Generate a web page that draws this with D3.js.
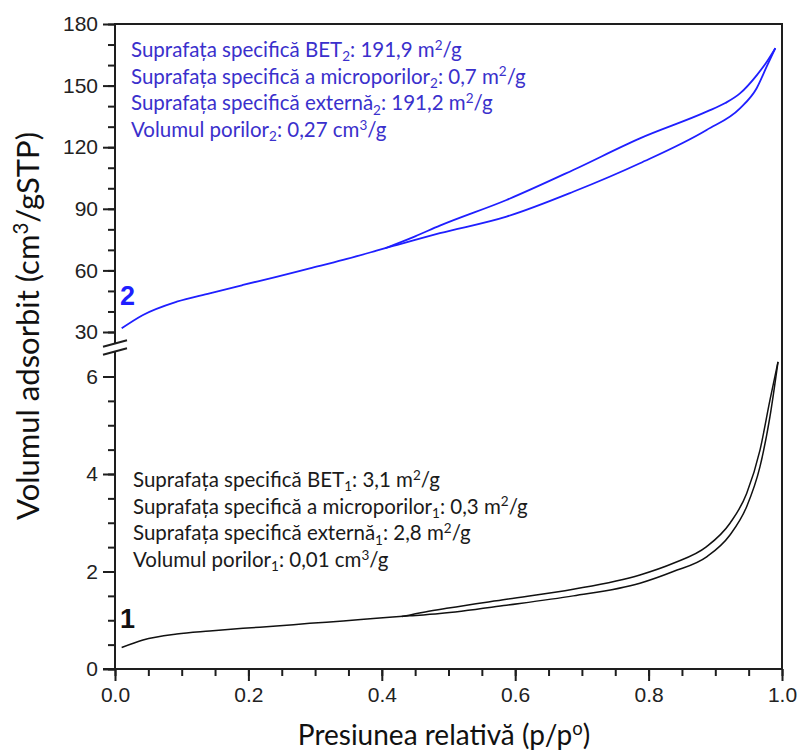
<!DOCTYPE html>
<html>
<head>
<meta charset="utf-8">
<script src="https://cdn.jsdelivr.net/npm/d3@7/dist/d3.min.js"></script>
<style>
  html, body { margin: 0; padding: 0; background: #fff; }
  svg { display: block; }
</style>
</head>
<body>
<svg id="chart" width="800" height="753"></svg>
<script>
// Nitrogen sorption isotherms, two samples on a broken y axis.
// Each branch is listed by increasing relative pressure: [p/p0, volume]
// Sample 2 (upper panel)
const sample2Adsorption = [
  [0.010, 31.8], [0.042, 38.3], [0.0925, 44.75], [0.142, 48.85], [0.192, 52.9],
  [0.242, 56.9], [0.292, 61.0], [0.342, 65.1], [0.392, 69.6], [0.417, 71.9],
  [0.450, 74.9], [0.487, 78.1], [0.587, 86.2], [0.687, 98.3], [0.787, 112.2],
  [0.887, 128.4], [0.937, 138.9], [0.962, 148.7], [0.977, 159.2], [0.990, 168.2]
];
const sample2Desorption = [
  [0.405, 70.8], [0.450, 76.6], [0.487, 81.8], [0.587, 94.3], [0.687, 108.9],
  [0.787, 124.3], [0.887, 137.3], [0.915, 141.5], [0.937, 146.2], [0.962, 155.0],
  [0.977, 161.5], [0.990, 168.2]
];
// Sample 1 (lower panel)
const sample1Adsorption = [
  [0.010, 0.44], [0.042, 0.595], [0.0925, 0.718], [0.142, 0.78], [0.192, 0.835],
  [0.242, 0.882], [0.292, 0.937], [0.342, 0.985], [0.392, 1.04], [0.442, 1.09],
  [0.487, 1.14], [0.587, 1.31], [0.687, 1.50], [0.787, 1.76], [0.837, 2.00],
  [0.887, 2.30], [0.922, 2.75], [0.947, 3.33], [0.967, 4.15], [0.982, 5.18],
  [0.994, 6.30]
];
const sample1Desorption = [
  [0.430, 1.075], [0.465, 1.17], [0.500, 1.25], [0.587, 1.43], [0.687, 1.635],
  [0.787, 1.93], [0.837, 2.17], [0.887, 2.51], [0.922, 2.99], [0.947, 3.60],
  [0.967, 4.49], [0.982, 5.52], [0.994, 6.30]
];

// Axis ticks
const xMajorTicks = [0, 0.2, 0.4, 0.6, 0.8, 1.0];
const xMinorTicks = d3.range(0, 1.0001, 0.05);
const yUpperMajorTicks = [30, 60, 90, 120, 150, 180];
const yUpperMinorTicks = d3.range(30, 180.001, 10);
const yLowerMajorTicks = [0, 2, 4, 6];
const yLowerMinorTicks = d3.range(0, 6.001, 0.5);

// Texts; "_" marks a subscript part, "^" a superscript part
const sample2Notes = [
  [["Suprafața specifică BET"], ["2", "_"], [": 191,9 m"], ["2", "^"], ["/g"]],
  [["Suprafața specifică a microporilor"], ["2", "_"], [": 0,7 m"], ["2", "^"], ["/g"]],
  [["Suprafața specifică externă"], ["2", "_"], [": 191,2 m"], ["2", "^"], ["/g"]],
  [["Volumul porilor"], ["2", "_"], [": 0,27 cm"], ["3", "^"], ["/g"]]
];
const sample1Notes = [
  [["Suprafața specifică BET"], ["1", "_"], [": 3,1 m"], ["2", "^"], ["/g"]],
  [["Suprafața specifică a microporilor"], ["1", "_"], [": 0,3 m"], ["2", "^"], ["/g"]],
  [["Suprafața specifică externă"], ["1", "_"], [": 2,8 m"], ["2", "^"], ["/g"]],
  [["Volumul porilor"], ["1", "_"], [": 0,01 cm"], ["3", "^"], ["/g"]]
];
const xTitle = [["Presiunea relativă (p/p"], ["o", "^"], [")"]];
const yTitle = [["Volumul adsorbit (cm"], ["3", "^"], ["/gSTP)"]];

const svg = d3.select("#chart");
const axisColor = "#1e1e1e";
const blue = "#1f1fff";
const noteBlue = "#3a30cc";
const tickFont = "'Liberation Sans', Arial, sans-serif";
const noteFont = "Lato, 'Open Sans', sans-serif";

// Plot geometry
const plotLeft = 115, plotRight = 782, plotTop = 24, plotBottom = 669;
const upperBottom = 343.5;   // lower end of the upper panel on the axis
const lowerTop = 351.5;      // upper end of the lower panel on the axis

const x = d3.scaleLinear().domain([0, 1]).range([plotLeft, plotRight]);
const yUp = d3.scaleLinear().domain([30, 180]).range([332, plotTop]);
const yLo = d3.scaleLinear().domain([0, 6]).range([plotBottom, 376.5]);

// Frame: top and right borders, x axis line, split left axis
const frame = svg.append("g").attr("stroke", axisColor).attr("stroke-width", 2).attr("fill", "none");
frame.append("line").attr("x1", plotLeft).attr("x2", plotRight + 1).attr("y1", plotTop).attr("y2", plotTop);
frame.append("line").attr("x1", plotRight).attr("x2", plotRight).attr("y1", plotTop).attr("y2", plotBottom);
frame.append("line").attr("x1", plotLeft - 12).attr("x2", plotRight + 1).attr("y1", plotBottom).attr("y2", plotBottom);
frame.append("line").attr("x1", plotLeft).attr("x2", plotLeft).attr("y1", plotTop - 1).attr("y2", upperBottom);
frame.append("line").attr("x1", plotLeft).attr("x2", plotLeft).attr("y1", lowerTop).attr("y2", plotBottom);

// Axis break marks
[upperBottom, lowerTop].forEach(yb => {
  svg.append("line")
    .attr("x1", plotLeft - 12).attr("y1", yb + 3.3)
    .attr("x2", plotLeft + 12).attr("y2", yb - 3.3)
    .attr("stroke", axisColor).attr("stroke-width", 2);
});

function styleAxis(g) {
  g.select(".domain").remove();
  g.selectAll(".tick line").attr("stroke", axisColor).attr("stroke-width", 2);
  g.selectAll(".tick text")
    .attr("fill", "#222")
    .style("font-family", tickFont)
    .style("font-size", "21px");
}

// x axis
svg.append("g").attr("transform", `translate(0,${plotBottom})`)
  .call(d3.axisBottom(x).tickValues(xMinorTicks).tickSize(7).tickFormat(""))
  .call(styleAxis);
svg.append("g").attr("transform", `translate(0,${plotBottom})`)
  .call(d3.axisBottom(x).tickValues(xMajorTicks).tickSize(12).tickPadding(6).tickFormat(d3.format(".1f")))
  .call(styleAxis);

// y axes (upper and lower panels)
svg.append("g").attr("transform", `translate(${plotLeft},0)`)
  .call(d3.axisLeft(yUp).tickValues(yUpperMinorTicks).tickSize(7).tickFormat(""))
  .call(styleAxis);
svg.append("g").attr("transform", `translate(${plotLeft},0)`)
  .call(d3.axisLeft(yUp).tickValues(yUpperMajorTicks).tickSize(12).tickPadding(5).tickFormat(d3.format("d")))
  .call(styleAxis);
svg.append("g").attr("transform", `translate(${plotLeft},0)`)
  .call(d3.axisLeft(yLo).tickValues(yLowerMinorTicks).tickSize(7).tickFormat(""))
  .call(styleAxis);
svg.append("g").attr("transform", `translate(${plotLeft},0)`)
  .call(d3.axisLeft(yLo).tickValues(yLowerMajorTicks).tickSize(12).tickPadding(5).tickFormat(d3.format("d")))
  .call(styleAxis);

// Isotherm curves
const lineUp = d3.line().x(d => x(d[0])).y(d => yUp(d[1])).curve(d3.curveMonotoneX);
const lineLo = d3.line().x(d => x(d[0])).y(d => yLo(d[1])).curve(d3.curveMonotoneX);

[sample2Adsorption, sample2Desorption].forEach(branch => {
  svg.append("path").datum(branch).attr("d", lineUp)
    .attr("fill", "none").attr("stroke", blue).attr("stroke-width", 1.8)
    .attr("stroke-linejoin", "round");
});
[sample1Adsorption, sample1Desorption].forEach(branch => {
  svg.append("path").datum(branch).attr("d", lineLo)
    .attr("fill", "none").attr("stroke", "#111").attr("stroke-width", 1.5)
    .attr("stroke-linejoin", "round");
});

// Writes a text made of plain, subscript and superscript parts
function richText(sel, parts, size) {
  const small = size * 0.66;
  let shift = 0; // current baseline offset
  parts.forEach(([t, kind]) => {
    const target = kind === "_" ? size * 0.2 : kind === "^" ? -size * 0.36 : 0;
    sel.append("tspan").text(t)
      .attr("font-size", kind ? small : size)
      .attr("dy", target - shift);
    shift = target;
  });
}

// Property notes
const noteSize = 20.5;
sample2Notes.forEach((parts, i) => {
  const t = svg.append("text")
    .attr("x", 131).attr("y", 57 + i * 26.7)
    .attr("fill", noteBlue)
    .style("font-family", noteFont).attr("font-size", noteSize);
  richText(t, parts, noteSize);
});
sample1Notes.forEach((parts, i) => {
  const t = svg.append("text")
    .attr("x", 133).attr("y", 487 + i * 26.7)
    .attr("fill", "#1a1a1a")
    .style("font-family", noteFont).attr("font-size", noteSize);
  richText(t, parts, noteSize);
});

// Sample labels
svg.append("text").attr("x", 120).attr("y", 305).text("2")
  .attr("fill", blue).style("font-family", tickFont).attr("font-size", 27).attr("font-weight", "bold");
svg.append("text").attr("x", 120).attr("y", 628).text("1")
  .attr("fill", "#111").style("font-family", tickFont).attr("font-size", 27).attr("font-weight", "bold");

// Axis titles
const xt = svg.append("text")
  .attr("x", 444).attr("y", 745)
  .attr("text-anchor", "middle").attr("fill", "#111")
  .style("font-family", noteFont).attr("font-size", 28);
richText(xt, xTitle, 28);

const yt = svg.append("text")
  .attr("transform", "translate(39,326) rotate(-90)")
  .attr("text-anchor", "middle").attr("fill", "#111")
  .style("font-family", noteFont).attr("font-size", 31);
richText(yt, yTitle, 31);
</script>
</body>
</html>
